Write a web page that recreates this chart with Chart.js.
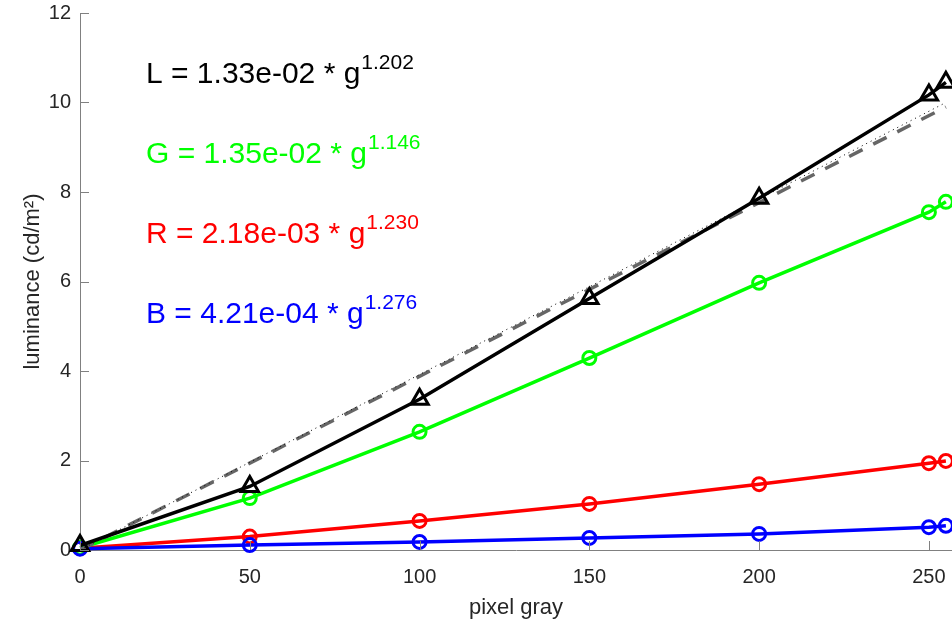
<!DOCTYPE html>
<html>
<head>
<meta charset="utf-8">
<script src="https://cdn.jsdelivr.net/npm/chart.js@4/dist/chart.umd.min.js"></script>
<style>
  html, body { margin: 0; padding: 0; background: #fff; }
  #wrap { width: 952px; height: 621px; position: relative; }
</style>
</head>
<body>
<div id="wrap"><canvas id="chart"></canvas></div>
<script>
// measured luminance vs pixel gray level
var grayLevels = [0, 50, 100, 150, 200, 250, 255];
var lumL = [0.10, 1.42, 3.37, 5.62, 7.86, 10.17, 10.45];
var lumG = [0.05, 1.16, 2.64, 4.29, 5.97, 7.55, 7.78];
var lumR = [0.04, 0.30, 0.65, 1.03, 1.47, 1.94, 1.99];
var lumB = [0.03, 0.11, 0.18, 0.27, 0.36, 0.51, 0.54];

// reference lines
var refX = [0, 255];
var refDashed = [0, 9.9];
var refDotted = [0, 10.0];

// fit annotations
var fitNames = ["L", "G", "R", "B"];
var fitCoefs = ["1.33e-02", "1.35e-02", "2.18e-03", "4.21e-04"];
var fitExps = ["1.202", "1.146", "1.230", "1.276"];
var fitColors = ["#000000", "#00ff00", "#ff0000", "#0000ff"];

var xTicks = [0, 50, 100, 150, 200, 250];
var yTicks = [0, 2, 4, 6, 8, 10, 12];

var AXIS_COLOR = "#808080";
var TEXT_COLOR = "#262626";
var FONT = "'Liberation Sans', Arial, Helvetica, sans-serif";

function pts(xs, ys) {
    return xs.map(function (x, i) { return {x: x, y: ys[i]}; });
}

function series(label, ys, color, style, radius, order) {
    return {
        label: label,
        data: pts(grayLevels, ys),
        borderColor: color,
        borderWidth: 3.5,
        pointStyle: style,
        pointRadius: radius,
        pointBorderWidth: 3,
        pointBorderColor: color,
        pointBackgroundColor: "rgba(0,0,0,0)",
        tension: 0,
        clip: false,
        order: order
    };
}

// matlab style ticks pointing into the plot
var innerTicks = {
    id: "innerTicks",
    afterDraw: function (chart) {
        var ctx = chart.ctx;
        var xs = chart.scales.x, ys = chart.scales.y;
        var area = chart.chartArea;
        ctx.save();
        ctx.strokeStyle = AXIS_COLOR;
        ctx.lineWidth = 1;
        ctx.beginPath();
        yTicks.forEach(function (v) {
            var py = Math.round(ys.getPixelForValue(v)) + 0.5;
            ctx.moveTo(area.left, py);
            ctx.lineTo(area.left + 9, py);
        });
        xTicks.forEach(function (v) {
            var px = Math.round(xs.getPixelForValue(v)) + 0.5;
            ctx.moveTo(px, area.bottom);
            ctx.lineTo(px, area.bottom - 9);
        });
        ctx.stroke();
        ctx.restore();
    }
};

var fitLabels = {
    id: "fitLabels",
    afterDatasetsDraw: function (chart) {
        var ctx = chart.ctx;
        var area = chart.chartArea;
        ctx.save();
        ctx.textBaseline = "alphabetic";
        ctx.textAlign = "left";
        for (var i = 0; i < fitNames.length; i++) {
            var x = area.left + 66;
            var y = area.top + 70 + i * 80;
            var main = fitNames[i] + " = " + fitCoefs[i] + " * g";
            ctx.fillStyle = fitColors[i];
            ctx.font = "30px " + FONT;
            ctx.fillText(main, x, y);
            var w = ctx.measureText(main).width;
            ctx.font = "21px " + FONT;
            ctx.fillText(fitExps[i], x + w + 1, y - 14);
        }
        ctx.restore();
    }
};

var dashedRef = {
    label: "ref dashed",
    data: pts(refX, refDashed),
    borderColor: "#666666",
    borderWidth: 3.5,
    borderDash: [15, 12],
    pointRadius: 0,
    tension: 0,
    order: 2
};
var dottedRef = {
    label: "ref dotted",
    data: pts(refX, refDotted),
    borderColor: "#000000",
    borderWidth: 1,
    borderDash: [1, 4],
    pointRadius: 0,
    tension: 0,
    order: 1
};

function noPad(s) {
    s.paddingLeft = 0;
    s.paddingRight = 0;
    s.paddingTop = 0;
    s.paddingBottom = 0;
}

var chart = new Chart(document.getElementById("chart").getContext("2d"), {
    type: "line",
    data: {
        datasets: [
            series("L", lumL, "#000000", "triangle", 10, 0),
            dottedRef,
            dashedRef,
            series("B", lumB, "#0000ff", "circle", 6.5, 3),
            series("G", lumG, "#00ff00", "circle", 6.5, 4),
            series("R", lumR, "#ff0000", "circle", 6.5, 5)
        ]
    },
    options: {
        responsive: true,
        maintainAspectRatio: false,
        animation: false,
        layout: {
            autoPadding: false,
            padding: { top: 13, right: 0, left: 0, bottom: 0 }
        },
        plugins: {
            legend: { display: false },
            tooltip: { enabled: false }
        },
        scales: {
            x: {
                type: "linear",
                min: 0,
                max: 256.8,
                grid: { display: false, drawTicks: false },
                border: { display: true, color: AXIS_COLOR, width: 1 },
                ticks: {
                    stepSize: 50,
                    includeBounds: false,
                    padding: 15,
                    color: TEXT_COLOR,
                    font: { family: FONT, size: 20 }
                },
                title: {
                    display: true,
                    text: "pixel gray",
                    color: TEXT_COLOR,
                    font: { family: FONT, size: 22 },
                    padding: { top: 0, bottom: 0 }
                },
                afterFit: function (s) { s.height = 71; noPad(s); }
            },
            y: {
                type: "linear",
                min: 0,
                max: 12,
                grid: { display: false, drawTicks: false },
                border: { display: true, color: AXIS_COLOR, width: 1 },
                ticks: {
                    stepSize: 2,
                    padding: 9,
                    color: TEXT_COLOR,
                    font: { family: FONT, size: 20 }
                },
                title: {
                    display: true,
                    text: "luminance (cd/m²)",
                    color: TEXT_COLOR,
                    font: { family: FONT, size: 22 },
                    padding: { top: 20, bottom: 0 }
                },
                afterFit: function (s) { s.width = 80; noPad(s); }
            }
        }
    },
    plugins: [innerTicks, fitLabels]
});
</script>
</body>
</html>
